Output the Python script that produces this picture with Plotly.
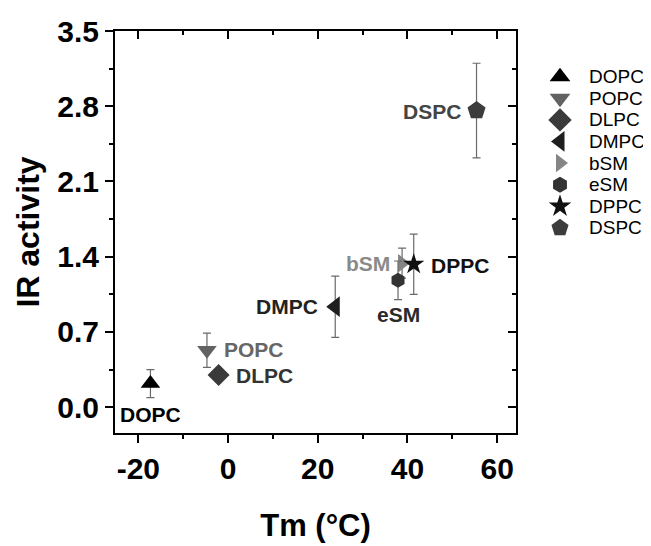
import plotly.graph_objects as go

# ---- data ----
lipids = ["DOPC", "POPC", "DLPC", "DMPC", "bSM", "eSM", "DPPC", "DSPC"]
tm_values = [-17.3, -4.7, -2.1, 23.9, 38.8, 37.9, 41.4, 55.4]
ir_activity = [0.22, 0.53, 0.30, 0.935, 1.34, 1.18, 1.33, 2.76]
ir_error = [0.13, 0.16, 0.0, 0.285, 0.14, 0.18, 0.28, 0.44]
x_ticks = [-20, 0, 20, 40, 60]
y_ticks = [0.0, 0.7, 1.4, 2.1, 2.8, 3.5]

# ---- styles ----
symbols = ["triangle-up", "triangle-down", "diamond", "triangle-left",
           "triangle-right", "hexagon", "star", "pentagon"]
sizes = [17, 17, 17, 18, 16, 15, 16, 19]
legend_sizes = [18, 18, 18, 18, 16, 16, 17, 18]
colors = ["#000000", "#626262", "#3a3a3a", "#1e1e1e", "#858585", "#333333", "#111111", "#3c3c3c"]
label_colors = ["#000000", "#666666", "#333333", "#222222", "#8a8a8a", "#2a2a2a", "#111111", "#444444"]
# label offsets (pixels) and anchors
label_dx = [0, 15, 15, -15, -10, 0, 15, -14]
label_dy = [-31, 1, -1, 0, 0, -34, -1, -1]
label_anchor = ["center", "left", "left", "right", "right", "center", "left", "right"]

FONT = "Liberation Sans, Arial, sans-serif"

fig = go.Figure()
for i, name in enumerate(lipids):
    fig.add_trace(go.Scatter(
        x=[tm_values[i]], y=[ir_activity[i]], mode="markers", name=name, showlegend=False,
        marker=dict(symbol=symbols[i], size=sizes[i], color=colors[i], opacity=1, line=dict(width=0)),
        error_y=dict(type="data", array=[ir_error[i]], visible=ir_error[i] > 0,
                     color="#6a6a6a", thickness=1.2, width=4),
    ))
    fig.add_annotation(
        x=tm_values[i], y=ir_activity[i], text=name, showarrow=False,
        xanchor=label_anchor[i], yanchor="middle", xshift=label_dx[i], yshift=label_dy[i],
        font=dict(family=FONT, size=21, color=label_colors[i], weight="bold"),
    )

# legend (drawn on its own hidden axes, one row per lipid)
legend_rows = list(range(len(lipids)))
fig.add_trace(go.Scatter(
    x=[0] * len(lipids), y=legend_rows, mode="markers", xaxis="x3", yaxis="y3",
    showlegend=False, hoverinfo="skip", cliponaxis=False,
    marker=dict(symbol=symbols, size=legend_sizes, color=colors, opacity=1, line=dict(width=0)),
))
for i, name in enumerate(lipids):
    fig.add_annotation(
        x=0, y=legend_rows[i], xref="x3", yref="y3", text=name, showarrow=False,
        xanchor="left", yanchor="middle", xshift=27,
        font=dict(family=FONT, size=19, color="#000000"),
    )

# empty trace to activate the mirrored (top/right) axes
fig.add_trace(go.Scatter(x=[], y=[], xaxis="x2", yaxis="y2", showlegend=False, hoverinfo="skip"))

xr = [-25.2, 64.2]
yr = [-0.24, 3.5]
tickfont = dict(family=FONT, size=30, color="#000000", weight="bold")
main_dom = [0, 401 / 544]

fig.update_layout(
    width=651, height=546,
    margin=dict(l=107, r=0, t=23, b=121, autoexpand=False),
    paper_bgcolor="white", plot_bgcolor="white",
    font=dict(family=FONT, color="#000000"),
    showlegend=False,
    xaxis=dict(domain=main_dom, range=xr, tickvals=x_ticks, ticktext=[str(v) for v in x_ticks],
               automargin=False,
               ticks="outside", ticklen=8, tickwidth=2, tickcolor="black",
               minor=dict(dtick=10, tick0=0, ticks="outside", ticklen=4, tickwidth=2, tickcolor="black"),
               showline=True, linecolor="black", linewidth=2, showgrid=False, zeroline=False,
               tickfont=tickfont,
               title=dict(text="Tm (°C)", font=dict(family=FONT, size=31, color="black", weight="bold"),
                          standoff=30)),
    yaxis=dict(range=yr, tickvals=y_ticks, ticktext=[f"{v:.1f}" for v in y_ticks], automargin=False,
               ticks="outside", ticklen=8, tickwidth=2, tickcolor="black",
               minor=dict(dtick=0.35, tick0=0, ticks="outside", ticklen=4, tickwidth=2, tickcolor="black"),
               showline=True, linecolor="black", linewidth=2, showgrid=False, zeroline=False,
               tickfont=tickfont,
               title=dict(text="IR activity", font=dict(family=FONT, size=32, color="black", weight="bold"),
                          standoff=8)),
    xaxis2=dict(domain=main_dom, range=xr, overlaying="x", side="top", anchor="y2", tickvals=x_ticks,
                automargin=False,
                showticklabels=False, ticks="inside", ticklen=8, tickwidth=2, tickcolor="black",
                minor=dict(dtick=10, tick0=0, ticks="inside", ticklen=4, tickwidth=2, tickcolor="black"),
                showline=True, linecolor="black", linewidth=2, showgrid=False, zeroline=False),
    yaxis2=dict(range=yr, overlaying="y", side="right", anchor="x2", tickvals=y_ticks, automargin=False,
                showticklabels=False, ticks="inside", ticklen=8, tickwidth=2, tickcolor="black",
                minor=dict(dtick=0.35, tick0=0, ticks="inside", ticklen=4, tickwidth=2, tickcolor="black"),
                showline=True, linecolor="black", linewidth=2, showgrid=False, zeroline=False),
    xaxis3=dict(domain=[445 / 544, 1.0], range=[0, 1], anchor="y3", visible=False, fixedrange=True),
    yaxis3=dict(domain=[0, 1], range=[16.5, -2.116], anchor="x3", visible=False, fixedrange=True),
)

fig.write_html("out.html")
